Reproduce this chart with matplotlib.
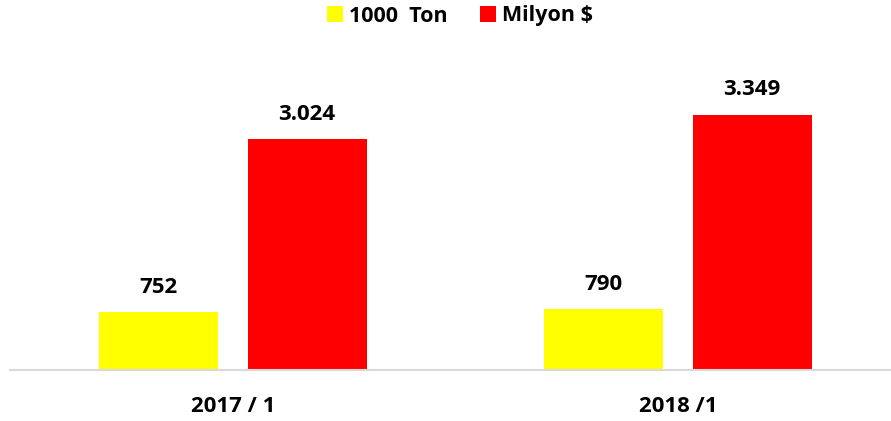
import matplotlib
matplotlib.use("Agg")
import matplotlib.pyplot as plt
import numpy as np

categories = ["2017 / 1", "2018 /1"]
series_names = ["1000  Ton", "Milyon $"]
ton_values = [752, 790]
usd_values = [3024, 3349]
ton_labels = ["752", "790"]
usd_labels = ["3.024", "3.349"]

colors = ["#FFFF00", "#FF0000"]
font = ["Open Sans", "DejaVu Sans"]

W, H = 891, 421
fig = plt.figure(figsize=(W / 100, H / 100), dpi=100)
left_px, right_px = 10, 891
base_px, top_px = 369.5, 40
ax = fig.add_axes([left_px / W, (H - base_px) / H, (right_px - left_px) / W, (base_px - top_px) / H])

x = np.arange(len(categories))
width = 0.267
off = 1 / 6
b1 = ax.bar(x - off, ton_values, width, color=colors[0], label=series_names[0])
b2 = ax.bar(x + off, usd_values, width, color=colors[1], label=series_names[1])

scale = 0.0761  # px per unit
ax.set_ylim(0, (base_px - top_px) / scale)
ax.set_xlim(-(233 - left_px) / 445, -(233 - left_px) / 445 + (right_px - left_px) / 445)

for bars, labs in ((b1, ton_labels), (b2, usd_labels)):
    for r, t in zip(bars, labs):
        ax.annotate(t, (r.get_x() + r.get_width() / 2, r.get_height()), xytext=(0, 18),
                    textcoords="offset points", ha="center", va="center",
                    fontsize=16, fontweight="bold", family=font)

for s in ["top", "right", "left"]:
    ax.spines[s].set_visible(False)
ax.spines["bottom"].set_color("#D9D9D9")
ax.spines["bottom"].set_linewidth(1.5)
ax.set_yticks([])
ax.set_xticks(x)
ax.set_xticklabels(categories, fontsize=16, fontweight="bold", family=font)
ax.tick_params(axis="x", length=0, pad=19)

leg = fig.legend(handles=[b1, b2], labels=series_names, loc="center", bbox_to_anchor=(460 / W, 1 - 16 / H),
                 ncol=2, frameon=False, prop={"family": font, "weight": "bold", "size": 15.5},
                 handlelength=0.72, handleheight=0.72, handletextpad=0.3, columnspacing=1.5)

fig.savefig("out.png", dpi=100)
